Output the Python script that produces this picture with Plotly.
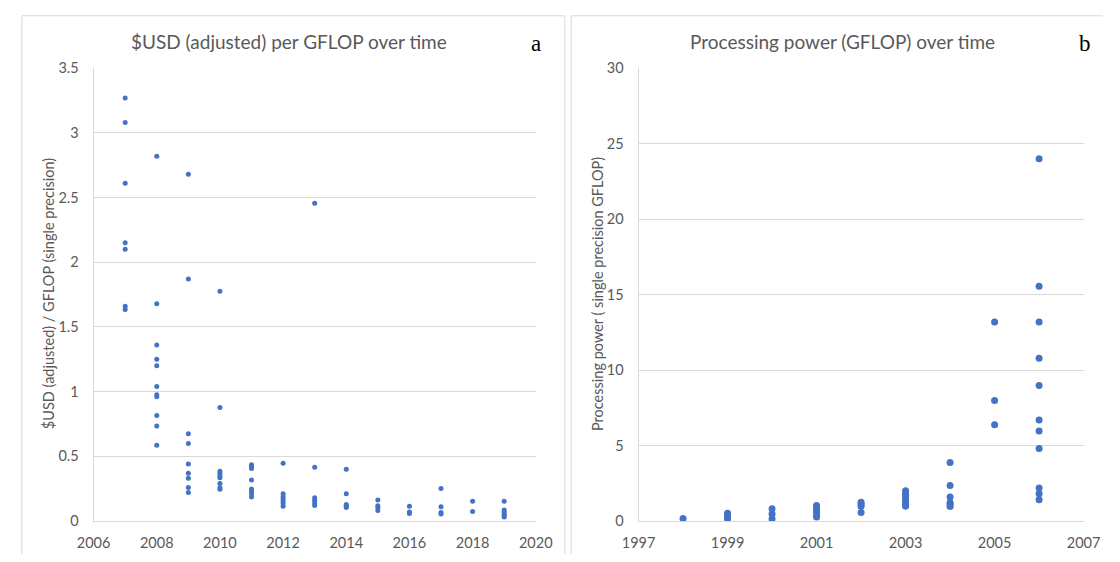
import plotly.graph_objects as go

# ---- Panel a: cost per GFLOP by release year ----
cost_years = (
    [2007] * 7
    + [2008] * 11
    + [2009] * 9
    + [2010] * 9
    + [2011] * 8
    + [2012] * 7
    + [2013] * 6
    + [2014] * 5
    + [2015] * 4
    + [2016] * 3
    + [2017] * 4
    + [2018] * 2
    + [2019] * 6
)
cost_usd_per_gflop = [
    3.27, 3.08, 2.61, 2.15, 2.10, 1.66, 1.635,
    2.82, 1.68, 1.36, 1.25, 1.20, 1.04, 0.975, 0.96, 0.815, 0.735, 0.585,
    2.68, 1.87, 0.675, 0.60, 0.44, 0.37, 0.33, 0.26, 0.22,
    1.775, 0.877, 0.385, 0.367, 0.35, 0.335, 0.29, 0.257, 0.245,
    0.435, 0.422, 0.405, 0.317, 0.247, 0.23, 0.21, 0.185,
    0.447, 0.21, 0.19, 0.172, 0.155, 0.135, 0.115,
    2.455, 0.415, 0.18, 0.16, 0.14, 0.12,
    0.40, 0.21, 0.127, 0.115, 0.105,
    0.162, 0.118, 0.103, 0.082,
    0.115, 0.07, 0.058,
    0.252, 0.11, 0.065, 0.055,
    0.152, 0.073,
    0.152, 0.085, 0.07, 0.055, 0.042, 0.032,
]

# ---- Panel b: processing power by release year ----
power_years = (
    [1998] * 1
    + [1999] * 4
    + [2000] * 3
    + [2001] * 6
    + [2002] * 4
    + [2003] * 8
    + [2004] * 6
    + [2005] * 3
    + [2006] * 11
)
power_gflop = [
    0.17,
    0.51, 0.37, 0.21, 0.13,
    0.82, 0.47, 0.13,
    1.03, 0.90, 0.73, 0.56, 0.34, 0.26,
    1.24, 1.11, 0.98, 0.56,
    2.01, 1.86, 1.71, 1.56, 1.41, 1.26, 1.11, 0.98,
    3.87, 2.36, 1.59, 1.22, 1.09, 0.96,
    13.19, 7.98, 6.38,
    24.0, 15.56, 13.19, 10.79, 8.97, 6.70, 5.97, 4.80, 2.18, 1.80, 1.41,
    1.07,
]

cost_x_ticks = [2006, 2008, 2010, 2012, 2014, 2016, 2018, 2020]
cost_y_ticks = [0, 0.5, 1, 1.5, 2, 2.5, 3, 3.5]
power_x_ticks = [1997, 1999, 2001, 2003, 2005, 2007]
power_y_ticks = [0, 5, 10, 15, 20, 25, 30]

W, H = 1120, 562
MARKER = "#4472C4"
GRID = "#d9d9d9"
TICK = "#595959"
FONT = "Lato, 'Open Sans', sans-serif"


def px(x):
    return x / W


def py(y):
    return 1 - y / H


fig = go.Figure()
fig.add_trace(go.Scatter(
    x=cost_years, y=cost_usd_per_gflop, mode="markers",
    marker=dict(color=MARKER, size=5), xaxis="x", yaxis="y",
    showlegend=False,
))
fig.add_trace(go.Scatter(
    x=power_years, y=power_gflop, mode="markers",
    marker=dict(color=MARKER, size=7), xaxis="x2", yaxis="y2",
    showlegend=False,
))

tick_font = dict(family=FONT, size=14.5, color=TICK)
x_common = dict(
    showgrid=False, zeroline=False, ticks="", showline=True,
    linecolor=GRID, linewidth=1, tickfont=tick_font,
    ticklabelstandoff=9, fixedrange=True,
)
y_common = dict(
    showgrid=True, gridcolor=GRID, gridwidth=1,
    zeroline=False, ticks="", showline=True, linecolor=GRID, linewidth=1,
    tickfont=tick_font, ticklabelstandoff=11, fixedrange=True,
)

plot_top, plot_bottom = 61, 528
fig.update_layout(
    width=W, height=H,
    margin=dict(l=0, r=0, t=0, b=0),
    paper_bgcolor="white", plot_bgcolor="white",
    font=dict(family=FONT, color=TICK),
    xaxis=dict(domain=[px(79), px(535)], range=[2006, 2020],
               tickvals=cost_x_ticks, anchor="y", **x_common),
    yaxis=dict(domain=[py(plot_bottom), py(plot_top)], range=[0, 3.5],
               tickvals=cost_y_ticks, anchor="x", **y_common),
    xaxis2=dict(domain=[px(641), px(1100)], range=[1997, 2007],
                tickvals=power_x_ticks, anchor="y2", **x_common),
    yaxis2=dict(domain=[py(plot_bottom), py(plot_top)], range=[0, 30],
                tickvals=power_y_ticks, anchor="x2", **y_common),
)

# chart frames around each panel
frame = dict(type="line", xref="paper", yref="paper",
             line=dict(color=GRID, width=1))
fig.add_shape(x0=px(5), x1=px(5), y0=0, y1=py(7), **frame)
fig.add_shape(x0=px(5), x1=px(565), y0=py(7), y1=py(7), **frame)
fig.add_shape(x0=px(565), x1=px(565), y0=0, y1=py(7), **frame)
fig.add_shape(x0=px(571.5), x1=px(571.5), y0=0, y1=py(7), **frame)
fig.add_shape(x0=px(571.5), x1=1, y0=py(7), y1=py(7), **frame)

title_font = dict(family=FONT, size=19, color=TICK)
label_font = dict(family="'Liberation Serif', 'DejaVu Serif', serif", size=23, color="black")
axis_title_font = dict(family=FONT, size=14.5, color=TICK)

annotations = [
    dict(text="$USD (adjusted) per GFLOP over time", x=px(280), y=py(33),
         font=title_font),
    dict(text="Processing power (GFLOP) over time", x=px(851), y=py(33),
         font=title_font),
    dict(text="a", x=px(535), y=py(36), font=label_font),
    dict(text="b", x=px(1101), y=py(36), font=label_font),
    dict(text="$USD (adjusted) / GFLOP (single precision)", x=px(32),
         y=py(294), textangle=-90, font=axis_title_font),
    dict(text="Processing power ( single precision GFLOP)", x=px(598),
         y=py(294), textangle=-90, font=axis_title_font),
]
for a in annotations:
    a.update(xref="paper", yref="paper", showarrow=False,
             xanchor="center", yanchor="middle")
fig.update_layout(annotations=annotations)

# drop the default page margin so the figure fills the window exactly
fig.write_html(
    "out.html",
    post_script="document.body.style.margin='0';"
                "document.body.style.overflow='hidden';",
)
